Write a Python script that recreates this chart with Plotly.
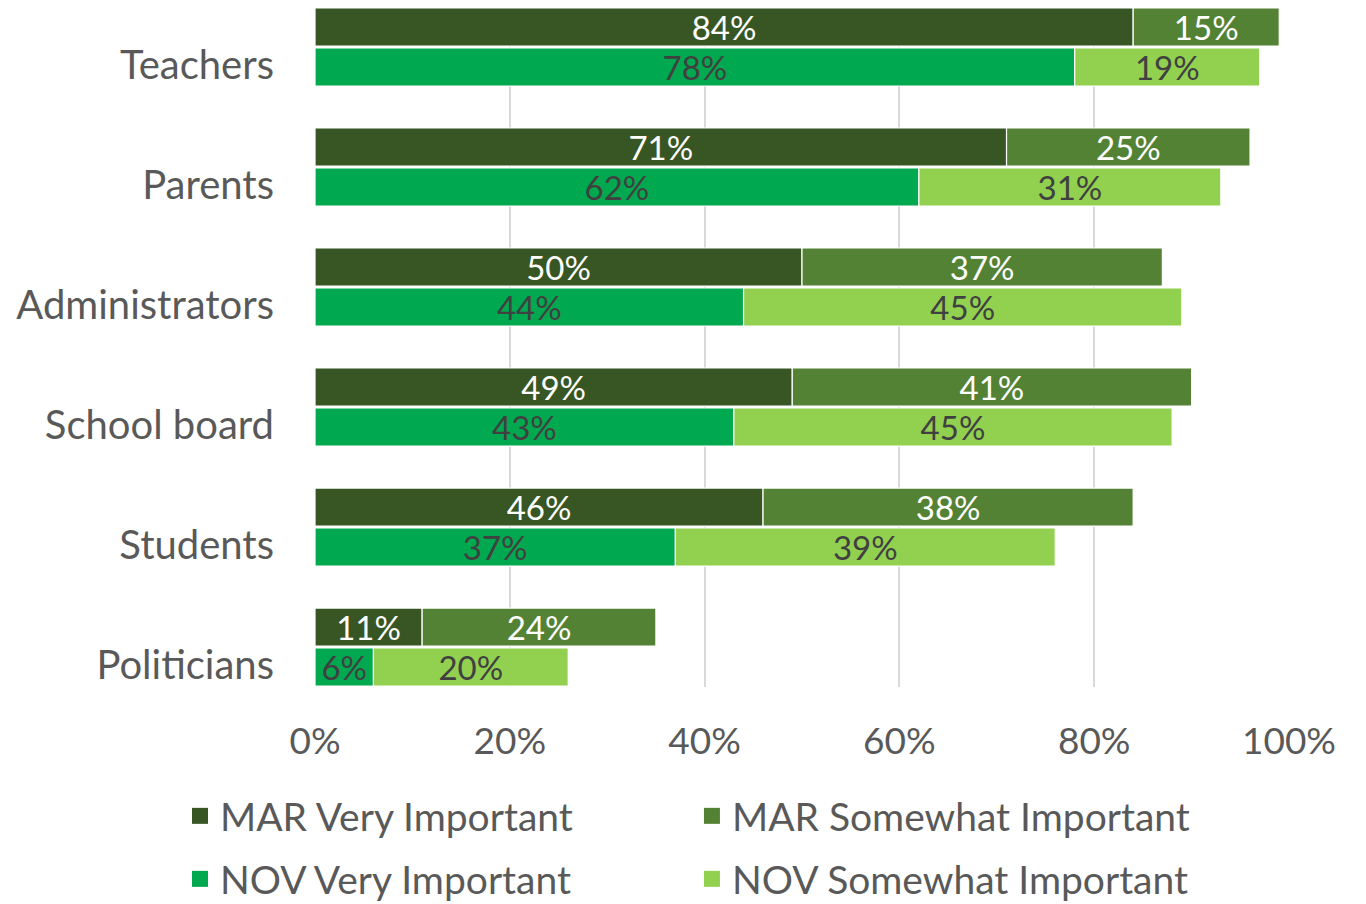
import plotly.graph_objects as go

categories = ["Teachers", "Parents", "Administrators", "School board", "Students", "Politicians"]
mar_very = [84, 71, 50, 49, 46, 11]
mar_somewhat = [15, 25, 37, 41, 38, 24]
nov_very = [78, 62, 44, 43, 37, 6]
nov_somewhat = [19, 31, 45, 45, 39, 20]
x_ticks = [0, 20, 40, 60, 80, 100]

FONT = "Lato"
GREY = "#595959"
LBL_DARK = "#404040"

series = [
    ("MAR Very Important", mar_very, None, "#375623", "white", -0.475, "legend"),
    ("MAR Somewhat Important", mar_somewhat, mar_very, "#548235", "white", -0.475, "legend2"),
    ("NOV Very Important", nov_very, None, "#00A84F", LBL_DARK, -0.142, "legend3"),
    ("NOV Somewhat Important", nov_somewhat, nov_very, "#92D050", LBL_DARK, -0.142, "legend4"),
]

def frac(v):
    return [a / 100 for a in v]

fig = go.Figure()
for name, vals, base, color, txtcolor, offset, legend in series:
    fig.add_trace(go.Bar(
        name=name, y=categories, x=frac(vals), base=frac(base) if base else None,
        orientation="h", offset=offset, width=0.317,
        marker=dict(color=color, line=dict(color="white", width=1.2)),
        text=[f"{v}%" for v in vals], textposition="inside", insidetextanchor="middle",
        textangle=0, constraintext="none",
        textfont=dict(family=FONT, size=33, color=txtcolor),
        hoverinfo="skip", showlegend=False,
    ))
for name, vals, base, color, txtcolor, offset, legend in series:
    fig.add_trace(go.Scatter(
        name=name, x=[None], y=[None], mode="markers",
        marker=dict(symbol="square", size=24, color=color),
        legend=legend, hoverinfo="skip", showlegend=True,
    ))

legend_common = dict(orientation="h", xanchor="left", yanchor="middle",
                     itemsizing="trace", xref="paper", yref="container",
                     font=dict(family=FONT, size=39, color=GREY), bgcolor="rgba(0,0,0,0)")

H = 896
COL1, COL2 = -0.1386, 0.387
ROW1, ROW2 = (H - 808) / H, (H - 871) / H

fig.update_layout(
    width=1350, height=H,
    margin=dict(l=307, r=69, t=0, b=H - 679),
    plot_bgcolor="white", paper_bgcolor="white",
    barmode="overlay",
    font=dict(family=FONT, color=GREY),
    xaxis=dict(range=[0, 1], tickvals=[t / 100 for t in x_ticks], tickformat=".0%",
               showgrid=True, gridcolor="#D9D9D9", gridwidth=1.5, zeroline=False, showline=False,
               tickfont=dict(family=FONT, size=37, color=GREY), ticks="", ticklabelstandoff=29,
               automargin=False),
    yaxis=dict(type="category", categoryorder="array", categoryarray=categories,
               range=[5.183, -0.475], showgrid=False, zeroline=False, showline=False,
               tickfont=dict(family=FONT, size=40, color=GREY), ticks="", ticklabelstandoff=40,
               automargin=False),
    legend=dict(x=COL1, y=ROW1, **legend_common),
    legend2=dict(x=COL2, y=ROW1, **legend_common),
    legend3=dict(x=COL1, y=ROW2, **legend_common),
    legend4=dict(x=COL2, y=ROW2, **legend_common),
    showlegend=True,
)

fig.write_html("out.html")
